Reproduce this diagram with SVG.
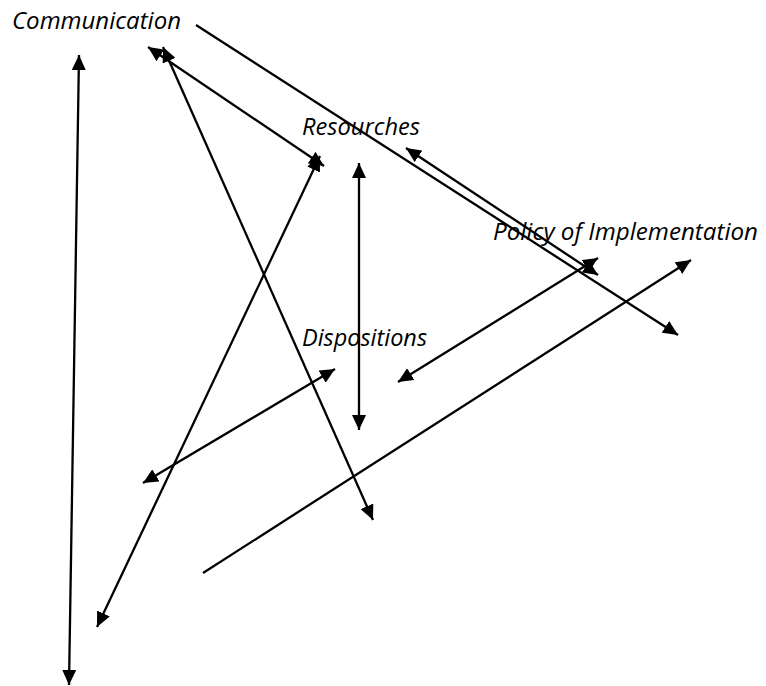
<svg xmlns="http://www.w3.org/2000/svg" width="766" height="686" viewBox="0 0 766 686">
<style>
.lbl{font-family:"Open Sans","Liberation Sans",sans-serif;font-style:italic;font-size:23px;fill:#000}
.c{stroke:#000;stroke-width:2.3;fill:none}
.both{marker-start:url(#ah);marker-end:url(#ah)}
.end{marker-end:url(#ah)}
</style>
<defs>
<marker id="ah" markerUnits="userSpaceOnUse" markerWidth="16" markerHeight="14" refX="15" refY="7" orient="auto-start-reverse" viewBox="0 0 16 14">
<path d="M0,0 L15,7 L0,14 z" fill="#000"/>
</marker>
</defs>
<rect width="766" height="686" fill="#fff"/>
<g id="connectors">
<line class="c both" x1="79" y1="55" x2="69" y2="685"/>
<line class="c end" x1="196" y1="25" x2="678" y2="335"/>
<line class="c both" x1="148" y1="47" x2="324" y2="166"/>
<line class="c both" x1="163" y1="47" x2="373" y2="520"/>
<line class="c both" x1="320" y1="156" x2="97" y2="627"/>
<line class="c both" x1="359" y1="163" x2="359" y2="430"/>
<line class="c both" x1="406" y1="148" x2="598" y2="275"/>
<line class="c both" x1="398" y1="382" x2="598" y2="258"/>
<line class="c both" x1="143" y1="483" x2="335" y2="369"/>
<line class="c end" x1="203" y1="573" x2="691" y2="260"/>
</g>
<g id="communication"><text class="lbl" x="12" y="29" textLength="169" lengthAdjust="spacingAndGlyphs">Communication</text></g>
<g id="resources"><text class="lbl" x="302" y="135" textLength="118" lengthAdjust="spacingAndGlyphs">Resourches</text></g>
<g id="policy"><text class="lbl" x="493" y="240" textLength="265" lengthAdjust="spacingAndGlyphs">Policy of Implementation</text></g>
<g id="dispositions"><text class="lbl" x="302" y="346" textLength="125" lengthAdjust="spacingAndGlyphs">Dispositions</text></g>
</svg>
